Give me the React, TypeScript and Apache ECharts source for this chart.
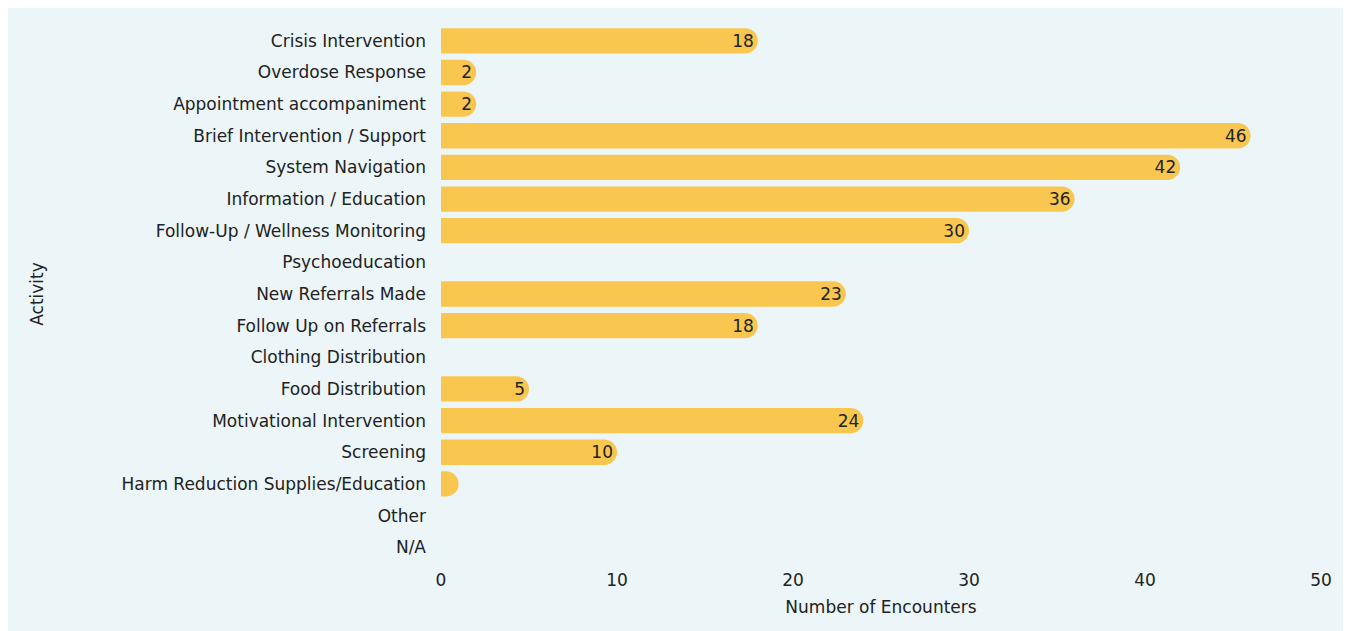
import React, { useEffect, useRef } from "react";
import * as echarts from "echarts";

const categories = [
  "Crisis Intervention",
  "Overdose Response",
  "Appointment accompaniment",
  "Brief Intervention / Support",
  "System Navigation",
  "Information / Education",
  "Follow-Up / Wellness Monitoring",
  "Psychoeducation",
  "New Referrals Made",
  "Follow Up on Referrals",
  "Clothing Distribution",
  "Food Distribution",
  "Motivational Intervention",
  "Screening",
  "Harm Reduction Supplies/Education",
  "Other",
  "N/A",
];
const encounters = [18, 2, 2, 46, 42, 36, 30, 0, 23, 18, 0, 5, 24, 10, 1, 0, 0];

const FONT = "'DejaVu Sans', sans-serif";

export default function App() {
  const ref = useRef<HTMLDivElement>(null);
  useEffect(() => {
    if (!ref.current) return;
    const chart = echarts.init(ref.current, null, { renderer: "svg" });
    chart.setOption({
      animation: false,
      backgroundColor: "#ECF5F8",
      textStyle: { fontFamily: FONT },
      grid: { left: 433, right: 22, top: 17, bottom: 68 },
      xAxis: {
        type: "value",
        min: 0,
        max: 50,
        interval: 10,
        name: "Number of Encounters",
        nameLocation: "middle",
        nameGap: 35,
        nameTextStyle: { fontSize: 17, color: "#222", fontFamily: FONT },
        axisLine: { show: false },
        axisTick: { show: false },
        splitLine: { show: false },
        axisLabel: { fontSize: 17, color: "#222", margin: 8, fontFamily: FONT },
      },
      yAxis: {
        type: "category",
        data: categories,
        inverse: true,
        name: "Activity",
        nameLocation: "middle",
        nameGap: 396,
        nameRotate: 90,
        nameTextStyle: { fontSize: 17, color: "#222", fontFamily: FONT },
        axisLine: { show: false },
        axisTick: { show: false },
        axisLabel: { fontSize: 17, color: "#222", margin: 15, fontFamily: FONT },
      },
      series: [
        {
          type: "bar",
          data: encounters.map((v) => (v === 0 ? null : v)),
          barCategoryGap: "20%",
          itemStyle: { color: "#F9C74F", borderRadius: [0, 13, 13, 0] },
          label: {
            show: true,
            position: "insideRight",
            distance: 4,
            color: "#222",
            fontSize: 17,
            fontFamily: FONT,
            formatter: (p: any) => (p.value >= 2 ? String(p.value) : ""),
          },
        },
      ],
    });
    return () => chart.dispose();
  }, []);
  return <div ref={ref} style={{ width: 1335, height: 623 }} />;
}
